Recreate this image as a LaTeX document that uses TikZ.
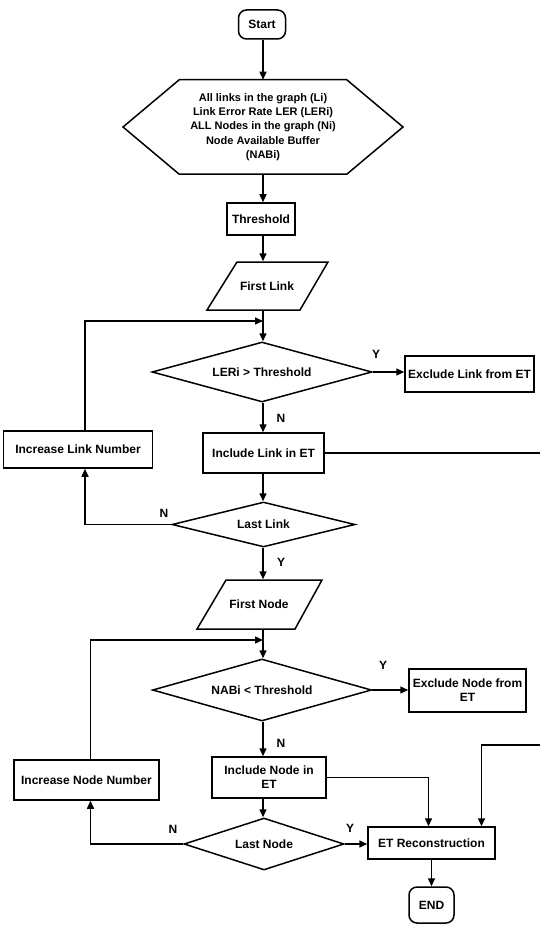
\documentclass[tikz,border=0pt]{standalone}
\usepackage{fontspec}
\setmainfont{Liberation Sans}
\usetikzlibrary{shapes.geometric,arrows.meta,calc}
\begin{document}
\begin{tikzpicture}[x=1pt,y=-1pt,
  line width=1.5pt,
  every node/.style={font=\bfseries\fontsize{12}{14}\selectfont},
  arr/.style={-{Triangle[length=8pt,width=7pt]}},
  procbox/.style={draw,rectangle,inner sep=0pt,align=center},
  decision/.style={draw,diamond,inner sep=0pt},
  term/.style={draw,rectangle,rounded corners=8pt,inner sep=0pt},
  ghost/.style={rectangle,inner sep=0pt,align=center},
  lbl/.style={font=\bfseries\fontsize{12}{14}\selectfont}
]
\fill[white] (0,0) rectangle (540,925);
\useasboundingbox (0,0) rectangle (540,925);

% terminals and inputs
\node[term, minimum width=47pt, minimum height=29pt] (start) at (262,24.5) {Start};
\node[ghost, font=\bfseries\fontsize{11}{14.3}\selectfont, minimum width=166pt, minimum height=93pt] (hex) at (263,127)
  {All links in the graph (Li)\\Link Error Rate LER (LERi)\\ALL Nodes in the graph (Ni)\\Node Available Buffer\\(NABi)};
\draw (hex.north west) -- (hex.north east) -- (403,127) -- (hex.south east) -- (hex.south west) -- (123,127) -- cycle;

\node[procbox, minimum width=68pt, minimum height=32pt] (thr) at (261,219) {Threshold};

\node[ghost, minimum width=90pt, minimum height=48pt] (fl) at (267,286) {First Link};
\draw (237,262) -- (328,262) -- (300,310) -- (207,310) -- cycle;

\coordinate (m1) at (263,321);
\node[decision, aspect=3.67, minimum width=220pt, minimum height=60pt] (d1) at (262,372) {LERi > Threshold};
\node[procbox, minimum width=129pt, minimum height=36pt] (exl) at (469.5,374) {Exclude Link from ET};
\node[procbox, minimum width=121pt, minimum height=40pt] (inl) at (263.5,453) {Include Link in ET};
\node[procbox, minimum width=149pt, minimum height=37pt] (incl) at (78,449.5) {Increase Link Number};
\coordinate (rc1) at (540,451);
\node[decision, aspect=4.07, minimum width=183pt, minimum height=45pt] (d2) at (263.5,524.5) {Last Link};

\node[ghost, minimum width=90pt, minimum height=49pt] (fn) at (259,604.5) {First Node};
\draw (226,580) -- (322,580) -- (295,629) -- (197,629) -- cycle;

\coordinate (m2) at (263,640);
\node[decision, aspect=3.53, minimum width=219pt, minimum height=62pt] (d3) at (262,690) {NABi < Threshold};
\node[procbox, minimum width=117pt, minimum height=43pt] (exn) at (467.5,690.5) {Exclude Node from\\ET};
\node[procbox, minimum width=114pt, minimum height=41pt] (inn) at (269,777.5) {Include Node in\\ET};
\node[procbox, minimum width=145pt, minimum height=40pt] (incn) at (86.5,780) {Increase Node Number};
\coordinate (rc2) at (540,745);
\node[decision, aspect=3.08, minimum width=160pt, minimum height=52pt] (d4) at (264,844) {Last Node};
\node[procbox, minimum width=127pt, minimum height=32pt] (et) at (431.5,843) {ET Reconstruction};
\node[term, minimum width=45pt, minimum height=36pt] (stopn) at (431.5,905) {END};

% connectors
\draw[arr] (start.south -| hex.north) -- (hex.north);
\draw[arr] (hex.south) -- (hex.south |- thr.north);
\draw[arr] (m1 |- thr.south) -- (m1 |- fl.north);
\draw[arr] (m1 |- fl.south) -- (m1 |- d1.north);
\draw[arr] (d1.east) -- (d1.east -| exl.west);
\draw[arr] (d1.south -| m1) -- (m1 |- inl.north);
\draw (inl.east) -- (inl.east -| rc1);
\draw[arr] (m1 |- inl.south) -- (m1 |- d2.north);
\draw[arr] (d2.west) -| ([xshift=7pt]incl.south);
\draw[arr] ([xshift=7pt]incl.north) |- (m1);
\draw[arr] (m1 |- d2.south) -- (m1 |- fn.north);
\draw[arr] (m1 |- fn.south) -- (m1 |- d3.north);
\draw[arr] ([xshift=4pt]incn.north) |- (m2);
\draw[arr] (d3.east) -- (d3.east -| exn.west);
\draw[arr] (m1 |- d3.south) -- (m1 |- inn.north);
\draw[arr] (m1 |- inn.south) -- (m1 |- d4.north);
\draw[arr] (d4.west) -| ([xshift=4pt]incn.south);
\draw[arr] (d4.east) -- (d4.east -| et.west);
\draw[arr] (inn.east) -| ([xshift=-3pt]et.north);
\draw[arr] (rc2) -| ([xshift=50pt]et.north);
\draw[arr] (et.south) -- (stopn.north);

% branch labels
\node[lbl] (y1) at (376,354) {Y};
\node[lbl] (n1) at (281,418) {N};
\node[lbl] (n2) at (164,513) {N};
\node[lbl] (y2) at (281,562) {Y};
\node[lbl] (y3) at (383,665) {Y};
\node[lbl] (n3) at (281,743) {N};
\node[lbl] (n4) at (173,829) {N};
\node[lbl] (y4) at (350,828) {Y};
\end{tikzpicture}
\end{document}
